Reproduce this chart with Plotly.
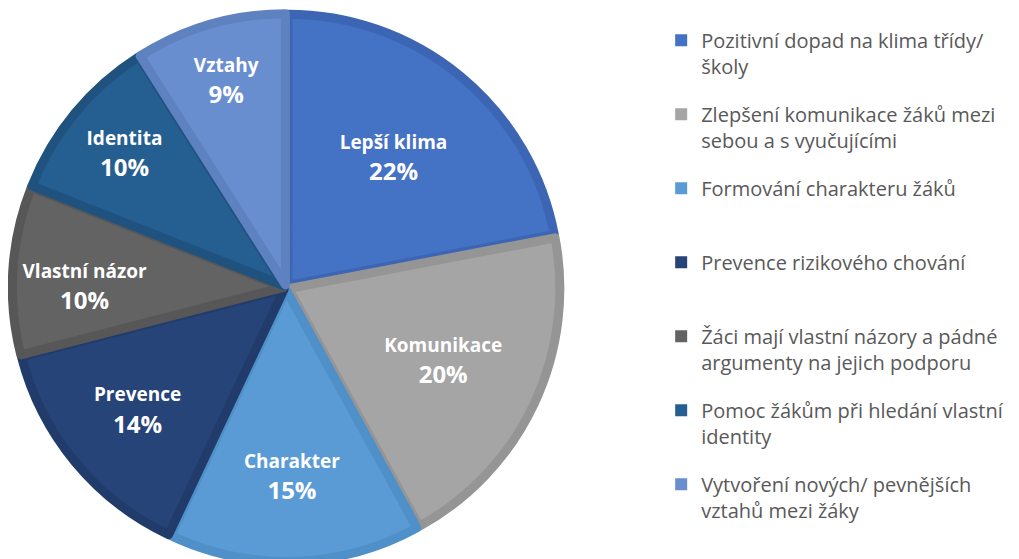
import plotly.graph_objects as go

# slice labels (inside the pie)
short_labels = ["Lepší klima", "Komunikace", "Charakter", "Prevence", "Vlastní názor", "Identita", "Vztahy"]
# legend entries
legend_labels = [
    "Pozitivní dopad na klima třídy/<br>školy",
    "Zlepšení komunikace žáků mezi<br>sebou a s vyučujícími",
    "Formování charakteru žáků<br>\u00a0",
    "Prevence rizikového chování<br>\u00a0",
    "Žáci mají vlastní názory a pádné<br>argumenty na jejich podporu",
    "Pomoc žákům při hledání vlastní<br>identity",
    "Vytvoření nových/ pevnějších<br>vztahů mezi žáky",
]
percents = [22, 20, 15, 14, 10, 10, 9]

fill_colors = ["#4472C4", "#A5A5A5", "#5B9BD5", "#264478", "#636363", "#255E91", "#698ED0"]
edge_colors = ["#3C66B3", "#959595", "#5090C8", "#213C6B", "#575757", "#20527F", "#5E81C0"]

fig = go.Figure()
fig.add_trace(go.Pie(
    labels=short_labels,
    values=percents,
    sort=False,
    direction="clockwise",
    rotation=0,
    pull=0.01,
    marker=dict(colors=fill_colors, line=dict(color=edge_colors, width=9)),
    texttemplate="<span style='font-size:19px'><b>%{label}</b></span><br><b>%{value}%</b>",
    textposition="inside",
    insidetextorientation="horizontal",
    textfont=dict(family="Open Sans", size=24, color="white"),
    hoverinfo="skip",
    showlegend=False,
    domain=dict(x=[0, 0.546], y=[0.01, 0.99]),
))

# legend entries as empty marker traces, one group each so the gaps can be set
for name, col in zip(legend_labels, fill_colors):
    fig.add_trace(go.Scatter(
        x=[None], y=[None], mode="markers", name=name, legendgroup=name,
        marker=dict(symbol="square", size=12, color=col),
        hoverinfo="skip",
    ))

fig.update_layout(
    width=1019, height=559,
    margin=dict(l=0, r=0, t=0, b=0),
    paper_bgcolor="white",
    plot_bgcolor="white",
    xaxis=dict(visible=False),
    yaxis=dict(visible=False),
    showlegend=True,
    legend=dict(
        x=0.641, y=0.977, xanchor="left", yanchor="top",
        font=dict(family="Open Sans", size=20, color="#595959"),
        valign="top",
        itemwidth=30,
        tracegroupgap=19,
        traceorder="grouped",
        bgcolor="rgba(0,0,0,0)",
    ),
)

fig.write_html("out.html")
